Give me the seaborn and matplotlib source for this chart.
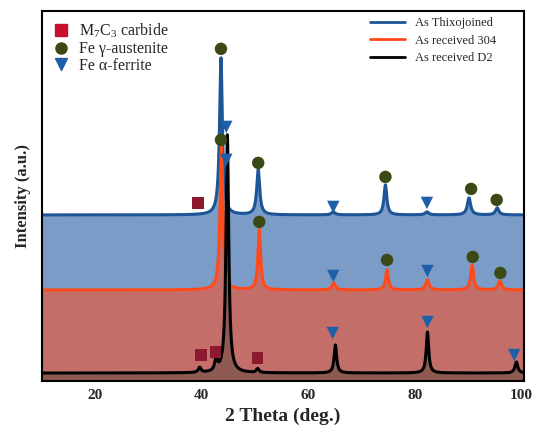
import numpy as np
import matplotlib
matplotlib.use("Agg")
import matplotlib.pyplot as plt
import seaborn as sns
from matplotlib.lines import Line2D

# ---------------- data ----------------
series_names = ["As Thixojoined", "As received 304", "As received D2"]

# baselines (arbitrary intensity units)
base_thixo = 166
base_304 = 91
base_d2 = 8

# peaks: positions (deg), heights above baseline, half widths (deg)
thixo_pos = [43.6, 50.6, 64.7, 74.5, 82.3, 90.2, 95.5]
thixo_hgt = [157, 45, 3, 30, 3, 17, 7]
thixo_wid = [0.32, 0.34, 0.4, 0.32, 0.4, 0.38, 0.38]

s304_pos = [43.7, 50.8, 64.8, 74.8, 82.4, 90.8, 96.0]
s304_hgt = [143, 60, 7, 20, 10, 25, 9]
s304_wid = [0.32, 0.30, 0.38, 0.32, 0.38, 0.32, 0.38]

d2_pos = [39.6, 42.7, 44.8, 50.5, 65.1, 82.4, 99.1]
d2_hgt = [5, 13, 238, 4, 28, 41, 11]
d2_wid = [0.3, 0.28, 0.30, 0.3, 0.28, 0.28, 0.32]

# phase markers (position deg, intensity)
carbide_x = [39.3, 39.8, 42.6, 50.5]
carbide_y = [178, 26, 29, 23]
austenite_x = [43.6, 50.6, 74.5, 90.6, 95.4, 43.6, 50.8, 74.8, 90.9, 96.1]
austenite_y = [332, 218, 204, 192, 181, 241, 159, 121, 124, 108]
ferrite_x = [44.6, 44.6, 64.7, 82.3, 64.7, 82.4, 64.6, 82.4, 98.7]
ferrite_y = [254, 221, 174, 178, 105, 110, 48, 59, 26]

# ---------------- build profiles ----------------
theta = np.linspace(10, 100.5, 4000)

def profile(base, pos, hgt, wid):
    y = np.full_like(theta, float(base))
    for p, h, w in zip(pos, hgt, wid):
        y += h / (1 + ((theta - p) / w) ** 2)
    return y

y_thixo = profile(base_thixo, thixo_pos, thixo_hgt, thixo_wid)
y_304 = profile(base_304, s304_pos, s304_hgt, s304_wid)
y_d2 = profile(base_d2, d2_pos, d2_hgt, d2_wid)

# ---------------- plot ----------------
sns.set_theme(style="white")
plt.rcParams['font.family'] = ['Liberation Serif', 'DejaVu Serif']
plt.rcParams['mathtext.fontset'] = 'custom'
plt.rcParams['mathtext.rm'] = 'Liberation Serif'
plt.rcParams['mathtext.it'] = 'Liberation Serif:italic'

fig = plt.figure(figsize=(5.4, 4.32), dpi=100)
ax = fig.add_axes([0.078, 0.118, 0.892, 0.857])

c_blue_line = "#1d5596"
c_orange_line = "#ff4a1a"
c_blue_fill = "#7b9cc6"
c_salmon_fill = "#c46e69"
c_brown_fill = "#8e5a52"

ax.fill_between(theta, 0, y_thixo, color=c_blue_fill, lw=0)
ax.fill_between(theta, 0, y_304, color=c_salmon_fill, lw=0)
ax.fill_between(theta, 0, y_d2, color=c_brown_fill, lw=0)

sns.lineplot(x=theta, y=y_thixo, ax=ax, color=c_blue_line, lw=2.2)
sns.lineplot(x=theta, y=y_304, ax=ax, color=c_orange_line, lw=2.2)
sns.lineplot(x=theta, y=y_d2, ax=ax, color="black", lw=2.2)

sns.scatterplot(x=carbide_x, y=carbide_y, ax=ax, marker="s", s=70,
                color="#8b1a2e", edgecolor="none", zorder=5)
sns.scatterplot(x=austenite_x, y=austenite_y, ax=ax, marker="o", s=80,
                color="#3b4a14", edgecolor="none", zorder=5)
sns.scatterplot(x=ferrite_x, y=ferrite_y, ax=ax, marker="v", s=80,
                color="#1f5fa8", edgecolor="none", zorder=5)

ax.set_xlim(10, 100.5)
ax.set_ylim(0, 370)
ax.set_yticks([])
ax.set_xticks([20, 40, 60, 80, 100])
ax.tick_params(axis="x", labelsize=11, length=0, pad=6)
for lab in ax.get_xticklabels():
    lab.set_fontweight("bold")
ax.set_xlabel("2 Theta (deg.)", fontsize=14, fontweight="bold", labelpad=4)
ax.set_ylabel("Intensity (a.u.)", fontsize=12, fontweight="bold", labelpad=8)
for sp in ax.spines.values():
    sp.set_color("black")
    sp.set_linewidth(1.5)

h1 = [Line2D([], [], ls="none", marker="s", ms=8, color="#c8102e"),
      Line2D([], [], ls="none", marker="o", ms=8, color="#3b4a14"),
      Line2D([], [], ls="none", marker="v", ms=8, color="#1f5fa8")]
l1 = [r"M$_7$C$_3$ carbide", "Fe γ-austenite", "Fe α-ferrite"]
leg1 = ax.legend(h1, l1, loc="upper left", frameon=False, fontsize=11.5,
                 handletextpad=0.6, labelspacing=0.05, borderaxespad=0.3,
                 bbox_to_anchor=(0.0, 1.0), handlelength=1.0)
ax.add_artist(leg1)

h2 = [Line2D([], [], color=c_blue_line, lw=2),
      Line2D([], [], color=c_orange_line, lw=2),
      Line2D([], [], color="black", lw=2)]
ax.legend(h2, series_names, loc="upper right", frameon=False, fontsize=9,
          handlelength=2.8, labelspacing=0.45, borderaxespad=0.1,
          bbox_to_anchor=(0.955, 1.0))

fig.savefig("out.png", dpi=100)
